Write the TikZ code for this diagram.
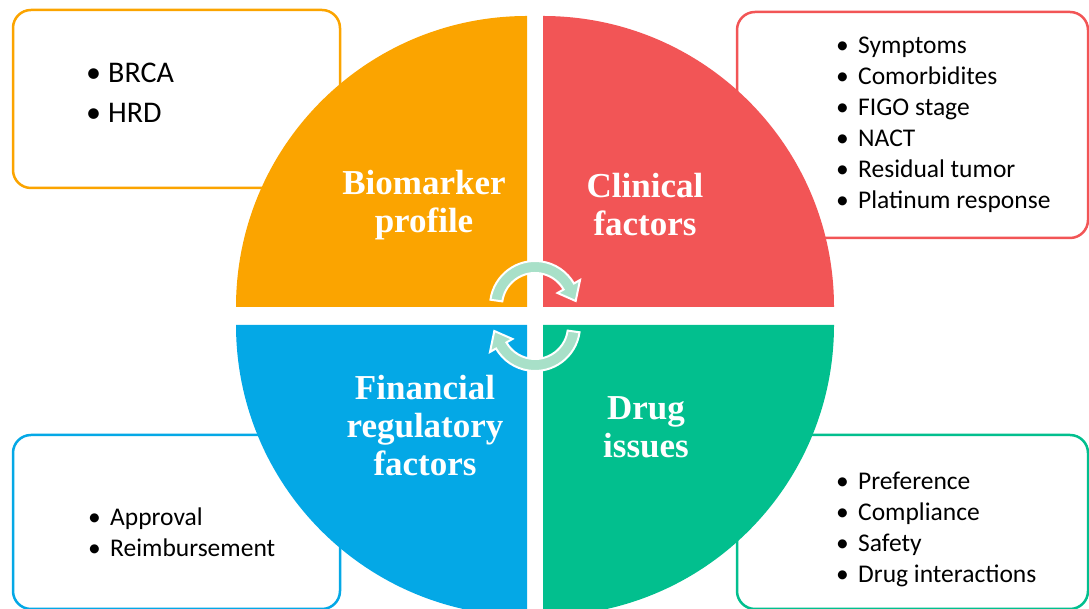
\documentclass[tikz,border=0pt]{standalone}
\usepackage{fontspec}
\setmainfont{Carlito}
\newfontfamily\labelfont{Liberation Serif}
\usepackage{xcolor}
\definecolor{bioorange}{HTML}{FBA400}
\definecolor{clinred}{HTML}{F25556}
\definecolor{finblue}{HTML}{04A8E6}
\definecolor{druggreen}{HTML}{02BF8E}
\definecolor{cyclegreen}{HTML}{A8E0C8}
\newcommand{\itm}[1]{\makebox[22pt][l]{\textbullet}#1}

\begin{document}
\begin{tikzpicture}[x=1pt, y=1pt,
  infobox/.style={draw=#1, line width=2.5pt, rounded corners=18pt, fill=white},
  quadlabel/.style={text=white, align=center, font=\labelfont\bfseries\fontsize{35}{38}\selectfont},
  itemlist/.style={anchor=west, inner sep=0pt, align=left, font=\fontsize{25.5}{31}\selectfont}]
\useasboundingbox (0,0) rectangle (1089,609);
\clip (0,0) rectangle (1089,609);
% side boxes
\draw [infobox=bioorange] (13,421) rectangle (340,599);
\draw [infobox=clinred] (737,371) rectangle (1088,597);
\draw [infobox=finblue] (13,0) rectangle (340,174);
\draw [infobox=druggreen] (737,0) rectangle (1088,174);
% quarters of the circle
\fill [bioorange] (527,302) -- (236,302) arc [start angle=180, end angle=90, radius=291] -- cycle;
\fill [clinred] (543,302) -- (543,593) arc [start angle=90, end angle=0, radius=291] -- cycle;
\fill [finblue] (527,284) -- (527,-7) arc [start angle=270, end angle=180, radius=291] -- cycle;
\fill [druggreen] (543,284) -- (834,284) arc [start angle=0, end angle=-90, radius=291] -- cycle;
% cycle arrows
\foreach \turn in {0,180}
  \filldraw [fill=cyclegreen, draw=white, line width=2pt, shift={(535,293)}, rotate=\turn, shift={(0,10)}]
    (172:45) arc [start angle=172, end angle=30, radius=45] -- (30:52) -- (7:41) -- (30:26) -- (30:33)
    arc [start angle=30, end angle=172, radius=33] -- cycle;
\node [quadlabel] (biomarker) at (424,404) {Biomarker\\profile};
\node [quadlabel] (clinical) at (645,404) {Clinical\\factors};
\node [quadlabel] (financial) at (425,183) {Financial\\regulatory\\factors};
\node [quadlabel] (drug) at (646,182) {Drug\\issues};
\node [itemlist, font=\fontsize{30}{40}\selectfont] (biolist) at (86,516) {\itm{BRCA}\\\itm{HRD}};
\node [itemlist] (cliniclist) at (836,484) {\itm{Symptoms}\\\itm{Comorbidites}\\\itm{FIGO stage}\\\itm{NACT}\\\itm{Residual tumor}\\\itm{Platinum response}};
\node [itemlist] (finlist) at (88,77) {\itm{Approval}\\\itm{Reimbursement}};
\node [itemlist] (druglist) at (836,80) {\itm{Preference}\\\itm{Compliance}\\\itm{Safety}\\\itm{Drug interactions}};
\end{tikzpicture}
\end{document}
